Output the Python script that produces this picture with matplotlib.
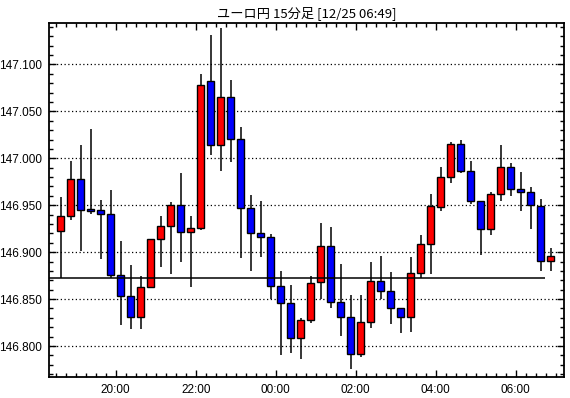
import matplotlib
matplotlib.use('Agg')
import matplotlib.pyplot as plt
import numpy as np

plt.rcParams['font.family'] = ['Noto Sans CJK JP', 'DejaVu Sans']

# 15-minute candles starting at 18:30 (12/24) up to 06:45 (12/25)
opens = [146.923, 146.939, 146.978, 146.946, 146.945, 146.941, 146.876, 146.853, 146.831, 146.863,
         146.914, 146.928, 146.950, 146.921, 146.926, 147.082, 147.014, 147.065, 147.021, 146.947,
         146.920, 146.916, 146.864, 146.846, 146.809, 146.828, 146.868, 146.907, 146.847, 146.831,
         146.792, 146.826, 146.869, 146.859, 146.840, 146.831, 146.878, 146.909, 146.948, 146.980,
         147.015, 146.986, 146.954, 146.925, 146.962, 146.991, 146.967, 146.964, 146.949, 146.891]
closes = [146.939, 146.978, 146.945, 146.944, 146.941, 146.876, 146.853, 146.831, 146.863, 146.914,
          146.928, 146.950, 146.921, 146.926, 147.078, 147.014, 147.065, 147.021, 146.947, 146.920,
          146.916, 146.864, 146.846, 146.809, 146.828, 146.867, 146.907, 146.847, 146.831, 146.792,
          146.826, 146.869, 146.859, 146.840, 146.831, 146.878, 146.909, 146.949, 146.980, 147.015,
          146.986, 146.954, 146.925, 146.962, 146.991, 146.967, 146.964, 146.950, 146.891, 146.896]
highs = [146.959, 146.997, 147.014, 147.031, 146.956, 146.966, 146.912, 146.886, 146.875, 146.914,
         146.939, 146.953, 146.984, 146.939, 147.090, 147.131, 147.139, 147.083, 147.033, 146.961,
         146.954, 146.919, 146.880, 146.865, 146.830, 146.875, 146.931, 146.927, 146.887, 146.854,
         146.854, 146.889, 146.896, 146.879, 146.841, 146.895, 146.918, 146.962, 146.991, 147.017,
         147.020, 146.997, 146.954, 146.964, 147.014, 146.995, 146.985, 146.969, 146.957, 146.904]
lows = [146.872, 146.934, 146.901, 146.941, 146.893, 146.873, 146.822, 146.818, 146.818, 146.863,
        146.884, 146.877, 146.889, 146.863, 146.924, 147.004, 146.986, 146.996, 146.894, 146.880,
        146.895, 146.850, 146.790, 146.793, 146.786, 146.825, 146.850, 146.841, 146.811, 146.775,
        146.788, 146.819, 146.850, 146.823, 146.814, 146.815, 146.872, 146.877, 146.944, 146.974,
        146.984, 146.951, 146.897, 146.918, 146.954, 146.960, 146.944, 146.925, 146.880, 146.880]

ref_level = 146.872
ref_end_slot = 48.9

# hour labels and the 15-min slot index where they fall (slot 0 = 18:30)
hour_labels = ['20:00', '22:00', '00:00', '02:00', '04:00', '06:00']
hour_slots = [6, 14, 22, 30, 38, 46]

title = 'ユーロ円 15分足 [12/25 06:49]'

fig = plt.figure(figsize=(5.70, 3.98), dpi=100)
ax = fig.add_axes([49.3 / 570, 1 - 377 / 398, (564 - 49.3) / 570, (377 - 22.7) / 398])

n = len(opens)
x = np.arange(n) + 0.5
o = np.array(opens)
c = np.array(closes)
colors = ['#ff0000' if cl > op else '#0000ff' for op, cl in zip(o, c)]
bottoms = np.minimum(o, c)
heights = np.maximum(np.abs(c - o), 0.0008)

ax.vlines(x, lows, highs, color='black', linewidth=1.1, zorder=2)
ax.bar(x, heights, bottom=bottoms, width=0.68, color=colors,
       edgecolor='black', linewidth=1.0, zorder=3)

ax.hlines(ref_level, -1, ref_end_slot, color='black', linewidth=1.1, zorder=4)

ax.set_xlim(-0.64, 50.83)
ax.set_ylim(146.767, 147.1445)

yt = [146.800, 146.850, 146.900, 146.950, 147.000, 147.050, 147.100]
ax.set_yticks(yt)
ax.set_yticklabels([f'{v:.3f}' for v in yt])
ax.set_yticks(np.arange(146.77, 147.145, 0.01), minor=True)
ax.set_xticks(hour_slots)
ax.set_xticklabels(hour_labels)
ax.set_xticks(np.arange(0, 51), minor=True)

ax.grid(axis='y', which='major', color='black', linestyle=(0, (1, 2)), linewidth=0.9, zorder=1)
ax.set_axisbelow(True)

ax.tick_params(which='both', direction='in', top=True, right=True, color='black',
               labelsize=8.5, labelcolor='black')
ax.tick_params(which='major', length=5, width=1, pad=5)
ax.tick_params(which='minor', length=3, width=1)
for lab in ax.get_xticklabels() + ax.get_yticklabels():
    lab.set_family('Liberation Sans')

for sp in ax.spines.values():
    sp.set_linewidth(1.3)
    sp.set_color('black')

fig.text((49.3 + 564) / 2 / 570, 1 - 13 / 398, title, ha='center', va='center', fontsize=9.5)

fig.savefig('out.png', dpi=100, facecolor='white')
